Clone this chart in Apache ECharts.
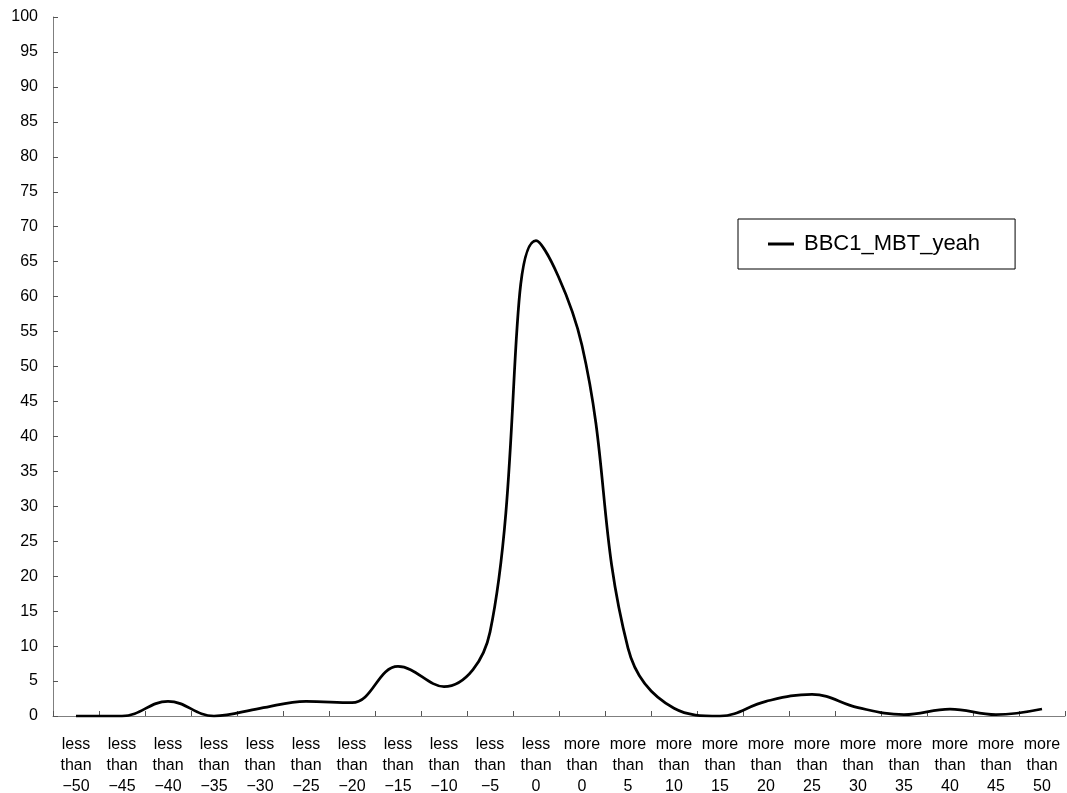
<!DOCTYPE html>
<html>
<head>
<meta charset="utf-8">
<script src="https://cdn.jsdelivr.net/npm/echarts@6/dist/echarts.min.js"></script>
<style>
html,body{margin:0;padding:0;background:#fff;}
#chart{width:1067px;height:793px;}
</style>
</head>
<body>
<div id="chart"></div>
<script>
var categories = [
  "less than −50","less than −45","less than −40","less than −35","less than −30",
  "less than −25","less than −20","less than −15","less than −10","less than −5",
  "less than 0","more than 0","more than 5","more than 10","more than 15",
  "more than 20","more than 25","more than 30","more than 35","more than 40",
  "more than 45","more than 50"
];
var seriesName = "BBC1_MBT_yeah";
var values = [0, 0, 2.1, 0, 1.1, 2.1, 1.9, 7.1, 4.2, 12, 68,
              53, 9.7, 1.1, 0, 2.1, 3.1, 1.2, 0.2, 1, 0.2, 1];
var yMin = 0, yMax = 100, yStep = 5;

var chart = echarts.init(document.getElementById('chart'), null, {renderer: 'canvas'});
var font = "'Liberation Sans', Arial, sans-serif";
var axisGray = '#7f7f7f';
chart.setOption({
  animation: false,
  backgroundColor: '#ffffff',
  grid: {left: 53, right: 2, top: 17, bottom: 77, containLabel: false, outerBoundsMode: 'none'},
  legend: {
    data: [seriesName],
    left: 738, top: 219,
    orient: 'horizontal',
    borderColor: '#000', borderWidth: 1,
    padding: [14, 35, 14, 30],
    icon: 'rect', itemWidth: 26, itemHeight: 3, itemGap: 10,
    textStyle: {fontFamily: font, fontSize: 22, color: '#000', padding: [0, 0, 0, 5]},
    itemStyle: {color: '#000'}
  },
  xAxis: {
    type: 'category',
    data: categories,
    boundaryGap: true,
    axisLine: {lineStyle: {color: axisGray, width: 1}},
    axisTick: {show: true, inside: true, length: 5, lineStyle: {color: '#555', width: 1}},
    axisLabel: {
      interval: 0, margin: 18, color: '#000', fontFamily: font, fontSize: 16, lineHeight: 21,
      formatter: function (v) { return v.split(' ').join('\n'); }
    },
    splitLine: {show: false}
  },
  yAxis: {
    type: 'value',
    min: yMin, max: yMax, interval: yStep,
    axisLine: {show: true, lineStyle: {color: axisGray, width: 1}},
    axisTick: {show: true, inside: true, length: 5, lineStyle: {color: '#555', width: 1}},
    axisLabel: {margin: 15, color: '#000', fontFamily: font, fontSize: 16},
    splitLine: {show: false}
  },
  series: [{
    name: seriesName,
    type: 'line',
    data: values,
    smooth: 0.4,
    showSymbol: false,
    symbol: 'none',
    lineStyle: {color: '#000', width: 2.75},
    itemStyle: {color: '#000'}
  }]
});
</script>
</body>
</html>
